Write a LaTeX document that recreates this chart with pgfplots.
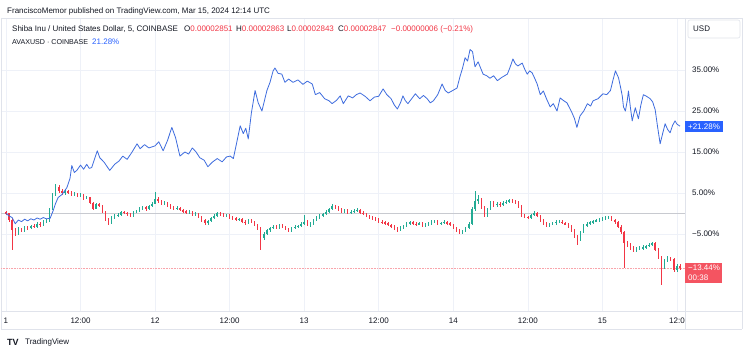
\documentclass[border=0pt]{standalone}
\usepackage{pgfplots}
\pgfplotsset{compat=1.18}
\usepackage{pgfplotstable}
\usepackage{fontspec}
\setmainfont{Liberation Sans}
\definecolor{tvgreen}{RGB}{34,171,148}
\definecolor{tvred}{RGB}{242,54,69}
\definecolor{tvblue}{RGB}{41,98,255}
\definecolor{linblue}{RGB}{62,108,222}
\definecolor{txt}{RGB}{19,23,34}
\definecolor{gridc}{RGB}{238,241,248}
\definecolor{border}{RGB}{224,227,235}
\definecolor{zeroc}{RGB}{200,202,208}

% SHIB 30-minute candles, % change vs start (t in hours from Mar 11 00:00)
\pgfplotstableread{
t o h l c
0 0.3 0.6 -0.4 0.0
0.5 0.0 0.2 -2.0 -1.5
1 -1.5 -1.2 -9.0 -4.0
1.5 -4.0 -3.6 -5.6 -5.0
2 -5.0 -3.4 -5.3 -3.8
2.5 -3.8 -3.5 -4.6 -4.2
3 -4.2 -3.0 -4.5 -3.3
3.5 -3.3 -3.0 -4.0 -3.6
4 -3.6 -2.7 -3.9 -3.0
4.5 -3.0 -2.6 -3.6 -3.2
5 -3.2 -2.2 -3.5 -2.5
5.5 -2.5 -2.1 -3.2 -2.8
6 -2.8 -1.7 -3.0 -2.0
6.5 -2.0 -1.4 -2.4 -1.8
7 -1.8 1.4 -2.1 1.0
7.5 1.0 5.0 0.8 4.5
8 4.5 7.2 4.2 6.5
8.5 6.5 6.9 5.0 5.5
9 5.5 5.9 4.4 4.9
9.5 4.9 5.8 4.6 5.4
10 5.4 5.7 4.7 5.1
10.5 5.1 5.4 4.2 4.6
11 4.6 5.2 4.3 4.8
11.5 4.8 5.0 3.9 4.2
12 4.2 4.9 3.9 4.5
12.5 4.5 4.7 3.4 3.8
13 3.8 4.3 3.5 3.9
13.5 3.9 4.1 2.2 2.6
14 2.6 2.8 0.8 1.2
14.5 1.2 2.6 1.0 2.2
15 2.2 2.5 1.5 1.9
15.5 1.9 2.1 0.0 0.4
16 0.4 0.6 -1.9 -1.5
16.5 -1.5 -1.2 -2.7 -2.2
17 -2.2 -0.7 -2.5 -1.0
17.5 -1.0 -0.2 -1.3 -0.6
18 -0.6 0.0 -0.9 -0.3
18.5 -0.3 0.7 -0.5 0.3
19 0.3 0.6 -0.2 0.2
19.5 0.2 0.4 -0.5 -0.2
20 -0.2 0.0 -0.9 -0.5
20.5 -0.5 0.5 -0.8 0.2
21 0.2 0.9 0.0 0.5
21.5 0.5 1.5 0.3 1.2
22 1.2 1.9 0.9 1.5
22.5 1.5 1.8 0.7 1.0
23 1.0 2.1 0.8 1.8
23.5 1.8 2.8 1.5 2.4
24 2.4 5.2 2.2 3.6
24.5 3.6 4.0 2.6 3.0
25 3.0 3.3 2.0 2.4
25.5 2.4 3.0 2.1 2.6
26 2.6 2.9 1.7 2.0
26.5 2.0 2.3 1.2 1.6
27 1.6 1.9 0.9 1.2
27.5 1.2 1.8 0.9 1.4
28 1.4 1.6 0.5 0.8
28.5 0.8 1.1 0.1 0.5
29 0.5 0.8 -0.1 0.2
29.5 0.2 0.8 -0.1 0.4
30 0.4 0.6 -0.6 -0.3
30.5 -0.3 0.3 -0.6 -0.1
31 -0.1 0.1 -1.1 -0.8
31.5 -0.8 -0.5 -2.0 -1.6
32 -1.6 -1.3 -2.9 -2.4
32.5 -2.4 -1.5 -2.7 -1.8
33 -1.8 -0.9 -2.1 -1.2
33.5 -1.2 -0.2 -1.4 -0.5
34 -0.5 0.3 -0.8 0.0
34.5 0.0 0.3 -0.7 -0.3
35 -0.3 0.0 -0.9 -0.6
35.5 -0.6 -0.1 -0.9 -0.4
36 -0.4 -0.2 -1.3 -1.0
36.5 -1.0 -0.7 -1.6 -1.2
37 -1.2 -0.9 -1.8 -1.5
37.5 -1.5 -1.0 -1.8 -1.3
38 -1.3 -1.0 -2.4 -2.0
38.5 -2.0 -1.7 -2.7 -2.3
39 -2.3 -1.4 -2.6 -1.7
39.5 -1.7 -1.4 -2.4 -2.0
40 -2.0 -1.8 -3.1 -2.8
40.5 -2.8 -2.5 -4.0 -3.6
41 -3.6 -3.3 -9.0 -6.0
41.5 -6.0 -4.6 -6.5 -5.0
42 -5.0 -3.8 -5.3 -4.1
42.5 -4.1 -3.3 -4.4 -3.6
43 -3.6 -2.8 -3.9 -3.2
43.5 -3.2 -2.9 -3.7 -3.4
44 -3.4 -2.6 -3.7 -2.9
44.5 -2.9 -2.6 -3.6 -3.3
45 -3.3 -3.0 -4.1 -3.8
45.5 -3.8 -3.5 -4.5 -4.1
46 -4.1 -3.2 -4.4 -3.5
46.5 -3.5 -2.9 -3.8 -3.2
47 -3.2 -2.7 -3.5 -3.0
47.5 -3.0 -2.2 -3.3 -2.6
48 -2.6 -0.3 -2.8 -2.0
48.5 -2.0 -1.7 -3.1 -2.8
49 -2.8 -2.1 -3.2 -2.4
49.5 -2.4 -1.3 -2.7 -1.6
50 -1.6 -0.7 -1.9 -1.0
50.5 -1.0 -0.2 -1.3 -0.5
51 -0.5 0.2 -0.8 -0.2
51.5 -0.2 0.8 -0.4 0.4
52 0.4 1.4 0.2 1.0
52.5 1.0 2.2 0.8 1.8
53 1.8 2.1 1.1 1.5
53.5 1.5 1.8 0.7 1.0
54 1.0 1.3 0.2 0.5
54.5 0.5 1.2 0.2 0.8
55 0.8 1.0 -0.1 0.2
55.5 0.2 0.8 -0.1 0.4
56 0.4 1.0 0.1 0.6
56.5 0.6 1.3 0.3 0.9
57 0.9 1.1 -0.1 0.2
57.5 0.2 0.5 -0.4 0.0
58 0.0 0.2 -0.9 -0.6
58.5 -0.6 -0.3 -1.3 -0.9
59 -0.9 -0.6 -1.5 -1.2
59.5 -1.2 -0.9 -1.9 -1.5
60 -1.5 -1.2 -2.3 -2.0
60.5 -2.0 -1.7 -2.6 -2.2
61 -2.2 -1.9 -2.8 -2.4
61.5 -2.4 -2.1 -3.1 -2.8
62 -2.8 -2.5 -3.6 -3.2
62.5 -3.2 -2.9 -4.0 -3.6
63 -3.6 -3.3 -4.6 -4.0
63.5 -4.0 -3.1 -4.3 -3.4
64 -3.4 -2.7 -3.7 -3.0
64.5 -3.0 -2.0 -3.2 -2.4
65 -2.4 -1.8 -2.7 -2.2
65.5 -2.2 -1.9 -2.8 -2.5
66 -2.5 -2.2 -3.0 -2.6
66.5 -2.6 -2.0 -2.9 -2.4
67 -2.4 -2.1 -3.2 -2.9
67.5 -2.9 -2.4 -3.2 -2.7
68 -2.7 -2.1 -3.0 -2.4
68.5 -2.4 -1.7 -2.7 -2.1
69 -2.1 -1.6 -2.4 -2.0
69.5 -2.0 -1.7 -2.8 -2.5
70 -2.5 -2.0 -2.8 -2.3
70.5 -2.3 -1.7 -2.6 -2.1
71 -2.1 -1.8 -2.7 -2.4
71.5 -2.4 -2.1 -3.1 -2.8
72 -2.8 -2.5 -3.8 -3.5
72.5 -3.5 -3.2 -4.6 -4.2
73 -4.2 -3.9 -5.0 -4.6
73.5 -4.6 -4.0 -4.9 -4.3
74 -4.3 -3.3 -4.6 -3.6
74.5 -3.6 -2.2 -3.9 -2.5
75 -2.5 1.5 -2.7 1.0
75.5 1.0 5.6 0.7 3.0
76 3.0 4.4 2.4 3.5
76.5 3.5 3.8 1.1 1.5
77 1.5 1.8 -0.9 -0.5
77.5 -0.5 1.4 -0.8 1.0
78 1.0 3.1 0.8 2.7
78.5 2.7 3.0 1.6 2.0
79 2.0 2.8 1.7 2.4
79.5 2.4 2.7 1.6 2.0
80 2.0 3.0 1.8 2.6
80.5 2.6 3.3 2.3 2.9
81 2.9 3.6 2.6 3.2
81.5 3.2 3.6 2.6 3.0
82 3.0 3.3 2.4 2.8
82.5 2.8 3.0 1.4 1.8
83 1.8 2.0 -0.9 -0.5
83.5 -0.5 -0.2 -1.2 -0.8
84 -0.8 -0.5 -1.4 -1.0
84.5 -1.0 -0.1 -1.3 -0.4
85 -0.4 0.6 -0.6 0.2
85.5 0.2 0.4 -0.9 -0.6
86 -0.6 -0.4 -2.0 -1.7
86.5 -1.7 -1.4 -2.8 -2.4
87 -2.4 -2.1 -3.3 -2.9
87.5 -2.9 -2.3 -3.2 -2.6
88 -2.6 -2.0 -2.9 -2.4
88.5 -2.4 -1.6 -2.7 -2.0
89 -2.0 -1.6 -2.4 -2.0
89.5 -2.0 -1.7 -2.6 -2.3
90 -2.3 -2.0 -2.9 -2.6
90.5 -2.6 -2.3 -3.5 -3.2
91 -3.2 -2.9 -4.5 -4.1
91.5 -4.1 -3.8 -5.9 -5.5
92 -5.5 -5.2 -7.8 -6.5
92.5 -6.5 -4.2 -6.8 -4.5
93 -4.5 -2.6 -4.7 -2.9
93.5 -2.9 -2.1 -3.2 -2.5
94 -2.5 -1.8 -2.8 -2.2
94.5 -2.2 -1.5 -2.5 -1.8
95 -1.8 -1.3 -2.1 -1.7
95.5 -1.7 -1.1 -2.0 -1.5
96 -1.5 -0.8 -1.8 -1.2
96.5 -1.2 -0.6 -1.5 -1.0
97 -1.0 -0.6 -1.4 -1.0
97.5 -1.0 -0.7 -1.9 -1.6
98 -1.6 -1.3 -2.5 -2.2
98.5 -2.2 -1.9 -3.5 -3.2
99 -3.2 -2.9 -5.0 -4.6
99.5 -4.6 -4.3 -13.4 -7.3
100 -7.3 -6.6 -8.2 -7.5
100.5 -7.5 -7.1 -8.8 -8.3
101 -8.3 -7.9 -9.5 -9.0
101.5 -9.0 -8.2 -9.4 -8.6
102 -8.6 -8.0 -9.0 -8.5
102.5 -8.5 -7.8 -8.9 -8.2
103 -8.2 -7.6 -8.6 -8.0
103.5 -8.0 -7.2 -8.3 -7.6
104 -7.6 -6.9 -8.0 -7.3
104.5 -7.3 -7.0 -9.2 -8.8
105 -8.8 -8.5 -11.1 -10.7
105.5 -10.7 -10.4 -17.5 -13.1
106 -13.1 -11.1 -13.6 -11.5
106.5 -11.5 -10.5 -11.9 -11.0
107 -11.0 -10.6 -11.7 -11.2
107.5 -11.2 -10.9 -14.4 -13.9
108 -13.9 -12.3 -14.2 -12.7
108.5 -12.7 -12.4 -13.8 -13.4
}\candles

% AVAXUSD % change vs start
\pgfplotstableread{
t y
0.0 0.0
0.5 -0.6
1.0 -1.0
1.5 -2.5
2.0 -1.6
2.5 -2.0
3.0 -1.4
3.5 -1.8
4.0 -1.3
4.5 -1.6
5.0 -1.1
5.5 -1.4
6.0 -1.0
6.5 -1.3
7.1 -1.2
7.6 0.7
8.0 2.5
8.4 3.9
9.0 4.6
9.8 6.3
10.3 8.5
10.6 11.7
11.0 10.0
11.4 10.5
12.0 11.8
12.5 10.8
13.0 12.0
13.4 11.0
13.8 11.2
14.3 13.5
14.7 15.3
15.1 13.6
15.8 12.5
16.7 10.5
17.5 12.0
18.2 12.8
18.8 14.0
19.5 13.2
20.3 15.0
21.1 17.0
21.6 15.8
22.3 16.8
23.0 16.0
24.0 16.5
24.6 17.5
25.3 15.3
26.0 17.8
26.7 21.0
27.3 18.5
28.0 14.0
28.8 15.0
29.4 14.5
30.0 16.0
30.6 15.0
31.2 13.6
31.9 13.0
32.5 11.4
33.2 12.5
34.0 13.4
34.8 12.6
35.5 13.8
36.1 14.0
36.6 13.4
37.1 17.0
37.7 21.4
38.2 19.5
38.6 20.8
39.0 18.2
39.5 24.5
40.1 30.0
40.6 27.0
41.2 25.0
41.6 27.5
42.0 30.0
42.5 32.0
43.0 34.8
43.3 35.5
43.8 34.2
44.4 34.0
44.9 32.0
45.5 32.8
46.2 32.0
47.0 32.6
47.8 31.5
48.5 32.3
49.3 31.6
49.8 29.0
50.5 29.5
51.3 28.0
52.0 27.5
52.5 26.8
53.2 27.6
53.8 28.7
54.3 26.8
55.1 28.7
55.8 28.2
56.4 29.0
57.0 29.4
57.8 28.6
58.6 27.5
59.3 28.4
60.0 28.6
60.7 30.4
61.3 29.0
62.0 28.0
62.5 26.5
63.0 25.5
63.5 27.0
63.9 28.7
64.3 27.5
64.7 26.8
65.3 28.0
65.9 29.2
66.6 28.0
67.2 28.8
67.8 28.0
68.3 27.0
68.8 27.5
69.5 29.0
70.2 31.6
70.7 30.0
71.2 29.4
71.9 30.0
72.6 30.6
73.1 33.5
73.5 35.5
73.9 38.0
74.3 37.2
74.7 40.0
75.1 39.5
75.5 35.8
76.0 37.0
76.4 35.5
76.8 34.0
77.4 33.6
77.9 33.0
78.5 33.6
79.1 32.4
79.8 33.2
80.7 34.0
81.1 35.5
81.6 37.7
82.0 36.5
82.4 36.0
83.1 36.7
83.5 35.2
83.9 34.0
84.3 34.8
84.7 34.3
85.1 33.0
85.5 31.6
86.0 29.0
86.5 29.9
87.0 28.0
87.6 26.0
88.1 26.8
88.7 25.0
89.2 28.2
89.7 27.6
90.3 27.0
90.7 25.8
91.1 24.6
91.5 23.2
91.9 21.0
92.4 23.8
93.0 25.0
93.6 26.8
94.1 26.2
94.5 27.5
95.3 28.0
96.1 29.2
96.7 29.0
97.3 30.0
97.7 32.5
98.1 34.8
98.6 33.1
98.9 31.0
99.2 28.7
99.4 26.0
99.7 25.0
100.0 27.5
100.2 29.9
100.5 26.0
100.8 22.6
101.3 25.8
101.8 23.1
102.2 26.5
102.6 29.0
103.1 28.6
103.7 28.0
104.1 27.2
104.5 25.3
104.9 21.0
105.3 17.0
105.7 19.5
106.1 21.9
106.5 20.5
106.9 19.7
107.3 21.5
107.7 22.6
108.0 21.8
108.5 21.3
}\avax

\begin{document}
\begin{tikzpicture}[x=1pt,y=1pt,font=\fontsize{8}{9.6}\selectfont]
\useasboundingbox (0,0) rectangle (750,354);
\fill[white] (0,0) rectangle (750,354);
% pane borders
\draw[border, line width=0.6pt] (1,336) -- (742,336);
\draw[border, line width=0.6pt] (1,25) -- (742,25);
\draw[border, line width=0.6pt] (1,43) -- (742,43);
\draw[border, line width=0.6pt] (742,336) -- (742,25);
\draw[border, line width=0.6pt] (685,336) -- (685,25);
\draw[border, line width=0.6pt] (1,336) -- (1,25);
\begin{axis}[
  at={(1pt,43pt)}, anchor=south west,
  scale only axis, width=684pt, height=293pt,
  xmin=-0.8, xmax=109.3, ymin=-23.8, ymax=47.7,
  axis line style={draw=border, line width=0.6pt},
  xtick={0,12,24,36,48,60,72,84,96,108},
  xticklabels={1,12:00,12,12:00,13,12:00,14,12:00,15,12:0},
  ytick={-5,5,15,25,35},
  yticklabels={−5.00\%,5.00\%,15.00\%,25.00\%,35.00\%},
  yticklabel pos=right,
  major tick length=0pt,
  grid=major,
  grid style={draw=gridc, line width=0.6pt},
  xticklabel style={anchor=center, inner sep=0pt, yshift=-10pt, text=txt},
  yticklabel style={anchor=west, inner sep=0pt, xshift=7pt, text=txt},
  unbounded coords=discard,
]
\addplot[zeroc, line width=0.6pt, forget plot] coordinates {(-0.8,0) (109.3,0)};
\addplot[tvred!45, densely dotted, line width=0.6pt, forget plot] coordinates {(-0.8,-13.44) (109.3,-13.44)};
% green wicks and bodies
\addplot[draw=none, mark=none, forget plot,
  error bars/.cd, y dir=both, y explicit, error mark=none,
  error bar style={draw=tvgreen, line width=0.5pt}]
  table[x=t, y expr={\thisrow{c}>=\thisrow{o} ? (\thisrow{h}+\thisrow{l})/2 : nan},
        y error expr={(\thisrow{h}-\thisrow{l})/2}] {\candles};
\addplot[draw=none, mark=none, forget plot,
  error bars/.cd, y dir=both, y explicit, error mark=none,
  error bar style={draw=tvgreen, line width=1.4pt}]
  table[x=t, y expr={\thisrow{c}>=\thisrow{o} ? (\thisrow{o}+\thisrow{c})/2 : nan},
        y error expr={abs(\thisrow{c}-\thisrow{o})/2}] {\candles};
% red wicks and bodies
\addplot[draw=none, mark=none, forget plot,
  error bars/.cd, y dir=both, y explicit, error mark=none,
  error bar style={draw=tvred, line width=0.5pt}]
  table[x=t, y expr={\thisrow{c}<\thisrow{o} ? (\thisrow{h}+\thisrow{l})/2 : nan},
        y error expr={(\thisrow{h}-\thisrow{l})/2}] {\candles};
\addplot[draw=none, mark=none, forget plot,
  error bars/.cd, y dir=both, y explicit, error mark=none,
  error bar style={draw=tvred, line width=1.4pt}]
  table[x=t, y expr={\thisrow{c}<\thisrow{o} ? (\thisrow{o}+\thisrow{c})/2 : nan},
        y error expr={abs(\thisrow{c}-\thisrow{o})/2}] {\candles};
% AVAX line
\addplot[linblue, line width=0.8pt, mark=none, line join=round] table[x=t, y=y] {\avax};
\end{axis}
% header texts
\node[anchor=west, inner sep=0pt, text=txt] at (7,343) {FranciscoMemor published on TradingView.com, Mar 15, 2024 12:14 UTC};
\node[anchor=west, inner sep=0pt, text=txt] at (12,325) {Shiba Inu / United States Dollar, 5, COINBASE};
\node[anchor=west, inner sep=0pt, text=txt] at (184,325) {O\textcolor{tvred}{0.00002851}};
\node[anchor=west, inner sep=0pt, text=txt] at (236,325) {H\textcolor{tvred}{0.00002863}};
\node[anchor=west, inner sep=0pt, text=txt] at (287,325) {L\textcolor{tvred}{0.00002843}};
\node[anchor=west, inner sep=0pt, text=txt] at (338,325) {C\textcolor{tvred}{0.00002847}};
\node[anchor=west, inner sep=0pt, text=tvred] at (391,325) {−0.00000006 (−0.21\%)};
\node[anchor=west, inner sep=0pt, text=txt] at (12,312) {\fontsize{7.1}{8.5}\selectfont AVAXUSD · COINBASE};
\node[anchor=west, inner sep=0pt, text=tvblue] at (92,312) {21.28\%};
% USD box
\draw[border, line width=0.6pt, rounded corners=2pt] (688,316) rectangle (740,334);
\node[anchor=west, inner sep=0pt, text=txt] at (693,325) {USD};
% value labels
\fill[tvblue] (685,221.5) rectangle (723,232.5);
\node[anchor=center, inner sep=0pt, text=white] at (704,227) {+21.28\%};
\fill[tvred!85!white] (685,71) rectangle (722,91);
\node[anchor=west, inner sep=0pt, text=white] at (688,86) {−13.44\%};
\node[anchor=west, inner sep=0pt, text=white] at (688,76) {00:38};
% logo
\node[anchor=west, inner sep=0pt, text=txt] at (7,12) {\fontsize{9}{10}\selectfont\textbf{TV}};
\node[anchor=west, inner sep=0pt, text=txt] at (25,12) {TradingView};
\end{tikzpicture}
\end{document}
